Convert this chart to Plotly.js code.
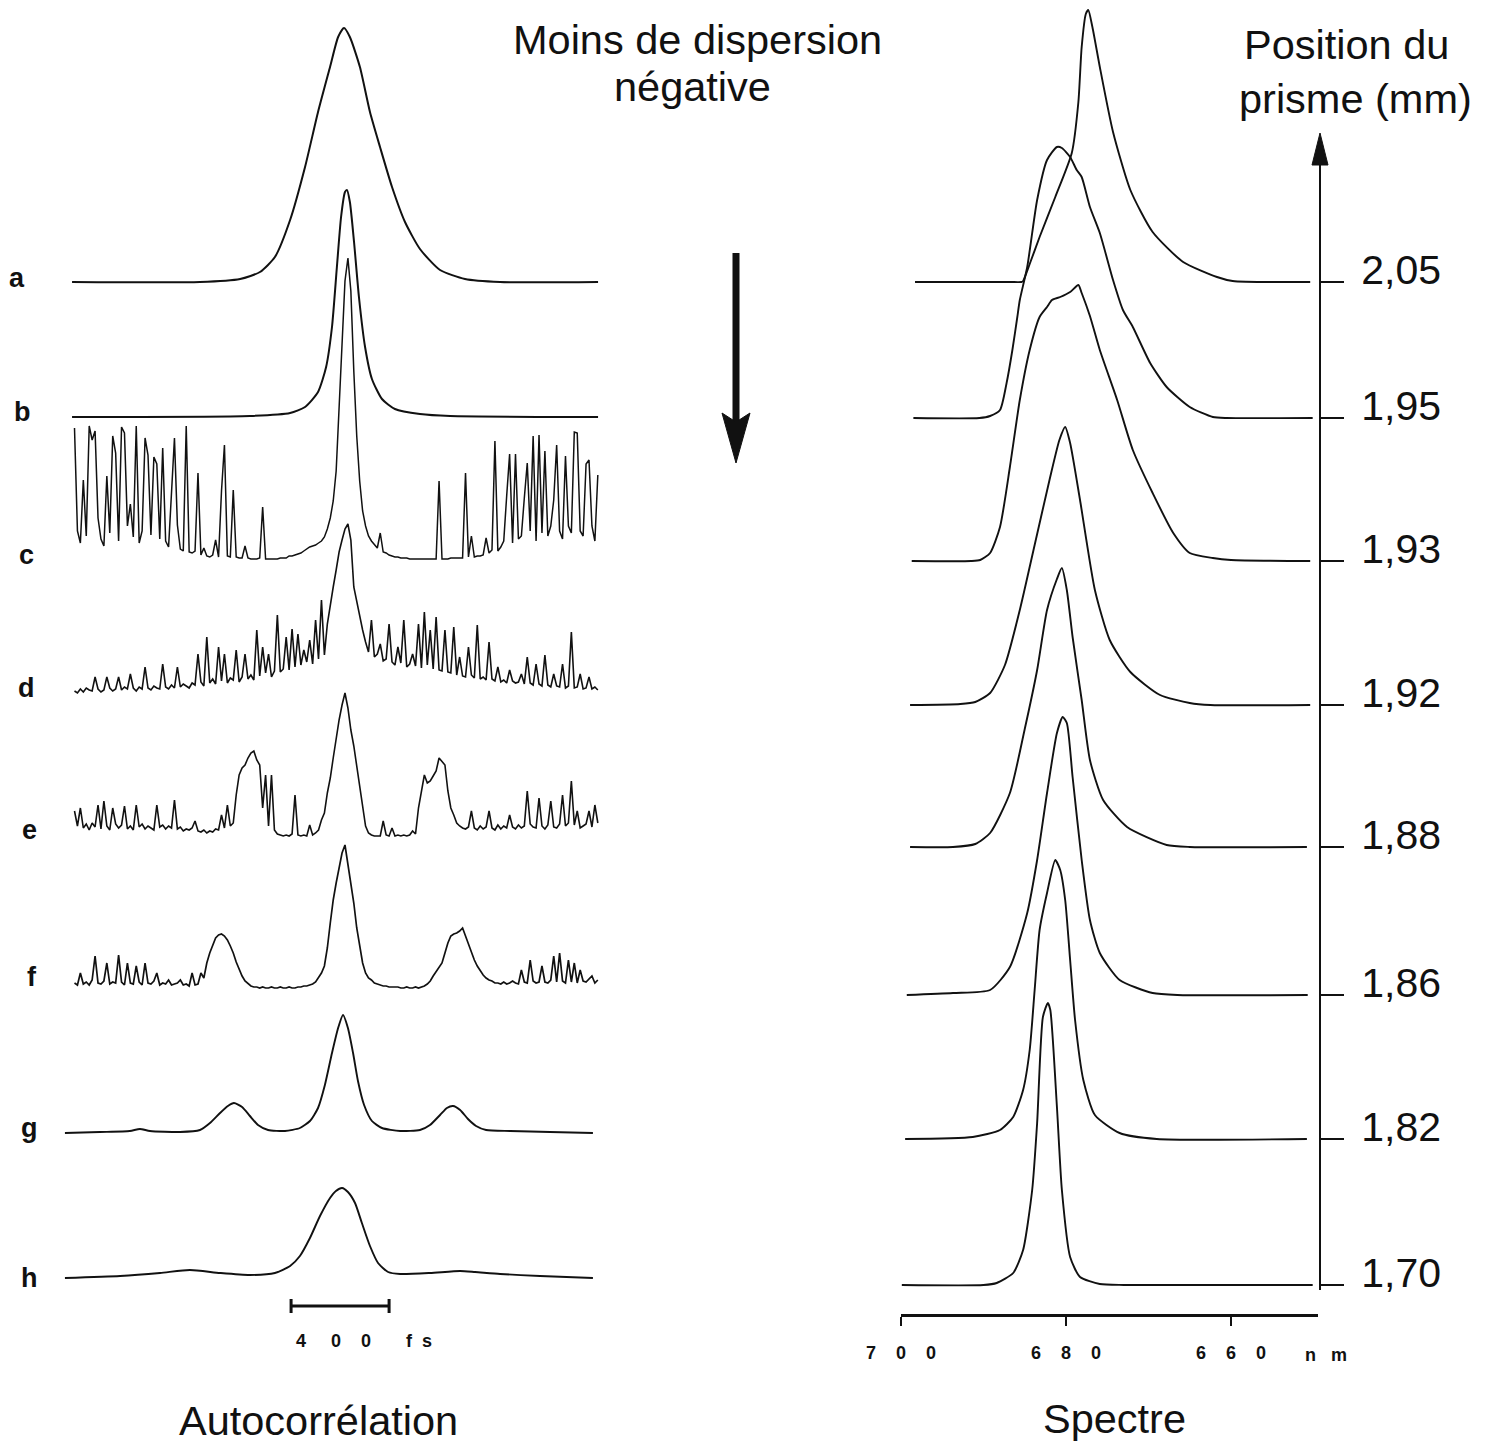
<!DOCTYPE html>
<html>
<head>
<meta charset="utf-8">
<script src="https://cdn.plot.ly/plotly-3.0.1.min.js"></script>
<style>
html, body { margin: 0; padding: 0; background: #fff; }
#chart { width: 1489px; height: 1445px; }
</style>
</head>
<body>
<div id="chart"></div>
<script>
// ---------------- Autocorrelation traces (delay in fs, signal in a.u.) ----------------
const traceLabels = ["a", "b", "c", "d", "e", "f", "g", "h"];

// smooth traces: explicit delay samples
const delayA = [-1110, -588, -424, -343, -282, -220, -159, -106, -57, -24, 0, 24, 65, 106, 147, 196, 249, 310, 392, 494, 637, 1037];
const signalA = [0, 0, 3, 10, 25, 62, 115, 170, 215, 245, 254, 245, 215, 170, 135, 95, 60, 33, 12, 3, 0, 0];

const delayB = [-1110, -384, -220, -159, -106, -73, -49, -29, -12, 4, 12, 24, 41, 61, 86, 114, 155, 208, 310, 433, 1037];
const signalB = [0, 1, 4, 10, 25, 50, 90, 150, 200, 225, 227, 215, 175, 120, 70, 38, 18, 8, 3, 1, 0];

const delayG = [-1139, -996, -874, -833, -792, -669, -588, -547, -506, -474, -449, -416, -384, -351, -310, -241, -180, -139, -106, -78, -49, -24, -4, 16, 37, 57, 82, 114, 155, 229, 310, 351, 392, 420, 445, 474, 506, 539, 580, 678, 841, 1016];
const signalG = [0, 1, 2, 4, 2, 1, 3, 10, 20, 27, 30, 26, 17, 8, 3, 2, 5, 12, 25, 48, 80, 105, 118, 105, 80, 52, 28, 12, 5, 2, 3, 8, 18, 25, 27, 23, 14, 7, 3, 2, 1, 0];

const delayH = [-1139, -914, -751, -629, -506, -384, -282, -220, -180, -139, -98, -57, -33, -8, 16, 45, 73, 106, 139, 180, 229, 351, 474, 535, 637, 800, 1016];
const signalH = [0, 2, 5, 8, 5, 3, 5, 12, 22, 40, 62, 80, 87, 90, 86, 75, 55, 32, 15, 6, 4, 5, 7, 6, 4, 2, 0];

// noisy traces: sampled every 12 fs starting at -1100 fs
const noisyStart = -1100;
const noisyStep = 12;

const signalC = [
  133, 30, 18, 81, 25, 135, 121, 130, 43, 22,
  15, 85, 28, 125, 108, 20, 134, 128, 35, 57,
  24, 135, 18, 30, 123, 106, 26, 104, 97, 22,
  113, 20, 14, 63, 123, 36, 12, 10, 135, 9,
  8, 10, 88, 6, 13, 5, 4, 6, 21, 4,
  70, 116, 5, 4, 71, 4, 3, 3, 15, 3,
  2, 2, 2, 3, 54, 2, 2, 2, 2, 2,
  3, 3, 3, 5, 5, 6, 7, 8, 10, 12,
  14, 15, 16, 18, 20, 24, 32, 43, 60, 90,
  150, 220, 280, 303, 270, 190, 125, 80, 50, 35,
  25, 20, 16, 13, 28, 9, 8, 6, 5, 4,
  4, 3, 3, 3, 2, 2, 2, 2, 2, 2,
  2, 2, 2, 2, 80, 2, 2, 2, 3, 3,
  3, 3, 3, 88, 4, 25, 4, 5, 5, 6,
  23, 8, 11, 120, 10, 14, 20, 65, 107, 18,
  107, 22, 25, 63, 98, 30, 125, 20, 126, 28,
  110, 25, 35, 61, 116, 30, 22, 105, 35, 28,
  129, 128, 30, 25, 97, 101, 35, 20, 86
];

const signalD = [
  6, 4, 8, 5, 9, 7, 6, 20, 8, 5,
  7, 20, 9, 6, 8, 20, 7, 10, 8, 23,
  9, 6, 10, 8, 30, 9, 7, 11, 9, 8,
  33, 10, 8, 12, 9, 30, 10, 13, 11, 9,
  14, 12, 43, 15, 11, 60, 14, 18, 13, 50,
  16, 43, 14, 19, 17, 47, 15, 20, 43, 18,
  22, 17, 67, 21, 50, 24, 43, 20, 26, 82,
  25, 28, 60, 27, 68, 30, 63, 32, 47, 35,
  57, 33, 77, 38, 97, 42, 73, 93, 110, 127,
  145, 157, 168, 173, 157, 110, 95, 83, 67, 55,
  45, 77, 40, 43, 53, 36, 38, 73, 35, 32,
  50, 34, 77, 30, 33, 43, 31, 73, 29, 85,
  32, 67, 28, 80, 27, 26, 67, 25, 24, 70,
  22, 40, 21, 20, 50, 22, 19, 72, 18, 20,
  17, 55, 18, 16, 30, 15, 17, 14, 27, 16,
  14, 15, 23, 13, 40, 14, 12, 33, 13, 11,
  42, 12, 10, 23, 11, 10, 33, 9, 11, 65,
  9, 10, 23, 8, 9, 20, 8, 10, 7
];

const signalE = [
  27, 12, 30, 10, 14, 8, 15, 11, 33, 9,
  37, 12, 8, 30, 14, 10, 13, 32, 9, 12,
  8, 33, 11, 14, 9, 12, 10, 8, 33, 11,
  13, 9, 12, 10, 38, 9, 11, 7, 9, 8,
  10, 17, 7, 6, 8, 5, 7, 6, 9, 8,
  23, 10, 33, 12, 15, 43, 63, 70, 73, 80,
  85, 87, 78, 73, 30, 63, 12, 63, 8, 4,
  3, 2, 3, 2, 4, 43, 3, 2, 3, 2,
  13, 3, 5, 8, 18, 25, 45, 60, 80, 100,
  118, 133, 145, 130, 108, 92, 72, 50, 28, 12,
  5, 3, 2, 2, 2, 17, 3, 2, 10, 2,
  3, 2, 3, 2, 3, 7, 4, 30, 45, 63,
  55, 57, 62, 67, 80, 76, 73, 47, 30, 23,
  15, 12, 10, 9, 11, 27, 10, 8, 12, 9,
  11, 27, 10, 8, 13, 9, 12, 10, 23, 11,
  9, 13, 10, 12, 47, 14, 11, 10, 40, 12,
  9, 13, 37, 11, 10, 14, 43, 12, 15, 57,
  13, 27, 10, 12, 14, 27, 11, 33, 15
];

const signalF = [
  5, 3, 15, 4, 6, 3, 8, 32, 5, 4,
  7, 25, 4, 6, 5, 33, 6, 3, 25, 5,
  4, 22, 6, 3, 25, 5, 4, 7, 15, 3,
  5, 4, 8, 3, 4, 5, 8, 3, 4, 2,
  15, 3, 4, 15, 10, 25, 35, 42, 50, 53,
  54, 52, 48, 42, 35, 26, 18, 12, 7, 4,
  2, 1, 1, 0, 1, 0, 0, 1, 0, 0,
  1, 0, 0, 1, 0, 0, 1, 1, 2, 2,
  3, 4, 6, 10, 15, 22, 40, 65, 88, 105,
  122, 135, 143, 125, 105, 85, 60, 40, 25, 15,
  10, 8, 5, 4, 3, 2, 2, 1, 1, 1,
  1, 0, 0, 1, 0, 0, 1, 0, 1, 2,
  4, 7, 12, 16, 20, 25, 35, 45, 52, 54,
  55, 57, 60, 52, 42, 35, 28, 22, 17, 13,
  10, 8, 7, 5, 5, 4, 6, 4, 5, 7,
  5, 4, 18, 6, 5, 28, 7, 5, 6, 22,
  6, 5, 8, 32, 6, 35, 7, 5, 28, 6,
  25, 5, 18, 7, 6, 9, 12, 5, 8
];

const scaleBarFs = 400;

// ---------------- Spectra (wavelength in nm, intensity in a.u.) ----------------
const prismPositions = ["2,05", "1,95", "1,93", "1,92", "1,88", "1,86", "1,82", "1,70"];

const lambda205 = [698.3, 686.8, 685.4, 685.2, 684.4, 683.2, 681.3, 679.3, 678.5, 678.1, 677.6, 677.3, 676.8, 675.9, 674.3, 672.2, 669.5, 665.8, 661.7, 659.8, 650.4];
const spec205 = [0, 0, 0, 1, 18, 45, 85, 129, 180, 235, 268, 272, 255, 215, 150, 92, 50, 20, 5, 1, 0];

const lambda195 = [698.5, 690.5, 689.2, 688.0, 687.2, 686.5, 685.9, 685.6, 684.7, 683.5, 682.3, 681.1, 680.5, 679.5, 678.7, 678.1, 677.1, 675.9, 674.3, 673.1, 671.9, 669.8, 667.8, 665.0, 662.2, 660.5, 650.1];
const spec195 = [0, 0, 2, 8, 35, 68, 101, 118, 151, 218, 258, 271, 270, 261, 248, 241, 211, 185, 138, 108, 91, 55, 31, 11, 1, 0, 0];

const lambda193 = [698.7, 691.5, 690.4, 689.2, 688.0, 686.8, 685.6, 684.4, 683.2, 682.3, 681.7, 680.7, 679.5, 678.5, 678.1, 677.1, 675.9, 673.8, 671.9, 669.5, 667.0, 665.0, 662.2, 660.0, 650.4];
const spec193 = [0, 0, 1, 8, 34, 94, 161, 211, 244, 254, 261, 264, 269, 276, 268, 245, 211, 161, 111, 68, 28, 8, 3, 1, 0];

const lambda192 = [698.9, 692.8, 691.0, 689.2, 687.4, 685.6, 683.8, 682.0, 680.8, 680.1, 679.5, 678.3, 676.5, 674.7, 672.2, 668.6, 665.0, 662.5, 650.4];
const spec192 = [0, 1, 3, 12, 40, 95, 160, 225, 265, 278, 262, 205, 115, 65, 33, 10, 2, 0, 0];

const lambda188 = [698.9, 693.7, 691.0, 689.2, 686.8, 685.0, 683.5, 682.3, 681.1, 680.5, 679.9, 679.2, 678.1, 677.1, 675.5, 672.6, 667.8, 665.0, 650.8];
const spec188 = [0, 0, 3, 14, 54, 118, 177, 237, 268, 279, 257, 210, 147, 87, 47, 20, 2, 0, 0];

const lambda186 = [699.3, 693.7, 689.2, 686.8, 684.7, 683.5, 682.3, 681.1, 680.4, 679.9, 679.2, 678.1, 677.1, 675.9, 673.5, 669.5, 666.5, 650.7];
const spec186 = [0, 2, 5, 28, 82, 135, 202, 262, 278, 272, 218, 135, 75, 42, 15, 2, 0, 0];

const lambda182 = [699.5, 691.3, 688.0, 686.4, 685.2, 684.4, 683.8, 683.2, 682.3, 681.3, 680.7, 680.1, 679.5, 678.9, 677.9, 676.5, 673.5, 669.0, 650.8];
const spec182 = [0, 2, 9, 22, 49, 89, 149, 209, 246, 279, 269, 239, 179, 119, 59, 24, 6, 0, 0];

const lambda170 = [699.9, 690.0, 688.4, 686.4, 685.2, 684.1, 683.5, 682.8, 682.2, 681.9, 681.1, 680.5, 679.5, 678.3, 675.9, 673.0, 650.1];
const spec170 = [0, 0, 2, 12, 35, 95, 162, 268, 282, 275, 178, 95, 28, 8, 1, 0, 0];

const wavelengthTicks = [700, 680, 660];

// ---------------- Page geometry ----------------
const W = 1489, H = 1445;
const px = x => x / W;          // page x (px) -> paper
const py = y => 1 - y / H;      // page y (px, from top) -> paper
const FS_PER_PX = 400 / 98;     // delay scale of the autocorrelation panel
const ZERO_DELAY_PX = 344;
const NM_PER_PX = 1 / 8.25;     // wavelength scale of the spectrum panel
const AXIS_START_PX = 901, AXIS_END_PX = 1318;
const VAXIS_PX = 1320;

// vertical stacking offsets (y units, counted upward from the page bottom)
const autoOffsets = [1163, 1028, 884, 748, 607, 457, 312, 167];
const specOffsets = [1163, 1027, 884, 740, 598, 450, 306, 160];

const noisyDelays = n => Array.from({ length: n }, (_, i) => noisyStart + noisyStep * i);
const shift = (vals, off) => vals.map(v => v + off);

const SMOOTH = { shape: "spline", smoothing: 0.6 };
const autoSeries = [
  [delayA, signalA, 2.0, SMOOTH],
  [delayB, signalB, 2.0, SMOOTH],
  [noisyDelays(signalC.length), signalC, 1.5, null],
  [noisyDelays(signalD.length), signalD, 1.6, null],
  [noisyDelays(signalE.length), signalE, 1.6, null],
  [noisyDelays(signalF.length), signalF, 1.7, null],
  [delayG, signalG, 1.9, SMOOTH],
  [delayH, signalH, 1.9, SMOOTH]
];

const specSeries = [
  [lambda205, spec205], [lambda195, spec195], [lambda193, spec193], [lambda192, spec192],
  [lambda188, spec188], [lambda186, spec186], [lambda182, spec182], [lambda170, spec170]
];

const traces = [];
autoSeries.forEach(([x, y, w, sm], k) => {
  traces.push({
    type: "scatter", mode: "lines", xaxis: "x", yaxis: "y",
    x: x, y: shift(y, autoOffsets[k]),
    line: Object.assign({ color: "#111", width: w }, sm || {}),
    hoverinfo: "skip", name: traceLabels[k]
  });
});
specSeries.forEach(([x, y], k) => {
  traces.push({
    type: "scatter", mode: "lines", xaxis: "x2", yaxis: "y2",
    x: x, y: shift(y, specOffsets[k]),
    line: Object.assign({ color: "#111", width: 1.9 }, SMOOTH),
    hoverinfo: "skip", name: prismPositions[k]
  });
});

const FONT = "Liberation Sans, Arial, Helvetica, sans-serif";
const nb = n => "\u00a0".repeat(n);
const spaced = (s, n) => s.split("").join(nb(n));

const annotations = [];
const addText = (text, x, y, size, opts = {}) => annotations.push(Object.assign({
  text: text, xref: "paper", yref: "paper", x: px(x), y: py(y),
  xanchor: "center", yanchor: "middle", showarrow: false,
  font: { family: FONT, size: size, color: "#111" }
}, opts));

addText("Moins de dispersion", 697, 40, 41.5);
addText("négative", 692, 86, 41.5);
addText("Position du", 1346, 44, 41.5);
addText("prisme (mm)", 1355, 98, 41.5);
addText("Autocorrélation", 318, 1420, 41.5);
addText("Spectre", 1114, 1418, 41.5);

const labelPos = [[17, 278], [22, 412], [26, 555], [26, 688], [30, 830], [32, 977], [30, 1128], [30, 1278]];
traceLabels.forEach((t, k) => addText(t, labelPos[k][0], labelPos[k][1], 27,
  { font: { family: FONT, size: 27, color: "#111", weight: "bold" } }));

addText("4" + nb(5) + "0" + nb(4) + "0" + nb(7) + "f" + nb(2) + "s", 294, 1341, 18,
  { xanchor: "left", font: { family: FONT, size: 18, color: "#111", weight: "bold" } });
addText("n" + nb(3) + "m", 1303, 1355, 18,
  { xanchor: "left", font: { family: FONT, size: 18, color: "#111", weight: "bold" } });

// scale bar drawn from its stated length
const barStart = -216;
const barY = 1306;
const shapes = [
  { type: "line", xref: "x", yref: "paper", x0: barStart, x1: barStart + scaleBarFs, y0: py(barY), y1: py(barY), line: { color: "#111", width: 3 } },
  { type: "line", xref: "x", yref: "paper", x0: barStart, x1: barStart, y0: py(barY - 7), y1: py(barY + 7), line: { color: "#111", width: 3 } },
  { type: "line", xref: "x", yref: "paper", x0: barStart + scaleBarFs, x1: barStart + scaleBarFs, y0: py(barY - 7), y1: py(barY + 7), line: { color: "#111", width: 3 } },
  // downward arrow between the panels
  { type: "line", xref: "paper", yref: "paper", x0: px(736), x1: px(736), y0: py(253), y1: py(426), line: { color: "#111", width: 7 } },
  { type: "path", xref: "paper", yref: "paper",
    path: `M ${px(722)} ${py(413)} L ${px(736)} ${py(422)} L ${px(750)} ${py(413)} L ${px(736)} ${py(463)} Z`,
    fillcolor: "#111", line: { color: "#111", width: 1 } },
  // prism-position axis with arrow
  { type: "line", xref: "paper", yref: "paper", x0: px(VAXIS_PX), x1: px(VAXIS_PX), y0: py(1290), y1: py(160), line: { color: "#111", width: 2 } },
  { type: "path", xref: "paper", yref: "paper",
    path: `M ${px(VAXIS_PX - 8)} ${py(165)} L ${px(VAXIS_PX)} ${py(133)} L ${px(VAXIS_PX + 8)} ${py(165)} Z`,
    fillcolor: "#111", line: { color: "#111", width: 1 } }
];

const hidden = { visible: false, showgrid: false, zeroline: false, fixedrange: true };

const layout = {
  width: W, height: H,
  margin: { l: 0, r: 0, t: 0, b: 0, pad: 0 },
  paper_bgcolor: "#fff", plot_bgcolor: "rgba(0,0,0,0)",
  showlegend: false,
  font: { family: FONT, color: "#111" },
  xaxis: Object.assign({}, hidden, {
    domain: [0, 0.5],
    range: [(0 - ZERO_DELAY_PX) * FS_PER_PX, (W * 0.5 - ZERO_DELAY_PX) * FS_PER_PX]
  }),
  yaxis: Object.assign({}, hidden, { domain: [0, 1], range: [0, H] }),
  xaxis2: {
    domain: [px(AXIS_START_PX), px(AXIS_END_PX)],
    range: [700, 700 - (AXIS_END_PX - AXIS_START_PX) * NM_PER_PX],
    anchor: "free", position: py(1315),
    showline: true, linecolor: "#111", linewidth: 2.5,
    showgrid: false, zeroline: false,
    ticks: "outside", ticklen: 9, tickwidth: 2.5, tickcolor: "#111",
    tickmode: "array", tickvals: wavelengthTicks,
    ticktext: wavelengthTicks.map(v => spaced(String(v), 4)),
    ticklabelstandoff: 12,
    tickfont: { family: FONT, size: 18, color: "#111", weight: "bold" }
  },
  yaxis2: {
    domain: [0, 1], range: [0, H],
    anchor: "free", position: px(VAXIS_PX), side: "right",
    showline: false, showgrid: false, zeroline: false,
    ticks: "outside", ticklen: 23, tickwidth: 2, tickcolor: "#111",
    tickmode: "array", tickvals: specOffsets, ticktext: prismPositions,
    ticklabelstandoff: 9, ticklabelshift: -12,
    tickfont: { family: FONT, size: 41, color: "#111" }
  },
  annotations: annotations,
  shapes: shapes
};

Plotly.newPlot("chart", traces, layout, { staticPlot: true, displayModeBar: false });
</script>
</body>
</html>
